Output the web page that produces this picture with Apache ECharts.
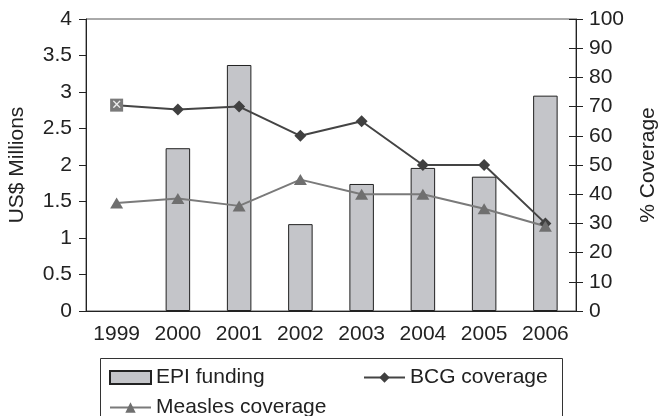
<!DOCTYPE html>
<html>
<head>
<meta charset="utf-8">
<script src="https://cdn.jsdelivr.net/npm/echarts@6/dist/echarts.min.js"></script>
<style>
  html, body { margin: 0; padding: 0; background: #fff; }
  #main { width: 659px; height: 416px; }
</style>
</head>
<body>
<div id="main"></div>
<script>
var years = ['1999', '2000', '2001', '2002', '2003', '2004', '2005', '2006'];
var epiFunding = ['-', 2.23, 3.37, 1.19, 1.74, 1.96, 1.84, 2.95];
var bcgCoverage = [70.5, 69, 70, 60, 65, 50, 50, 30];
var measlesCoverage = [37, 38.5, 36, 45, 40, 40, 35, 29];

var myChart = echarts.init(document.getElementById('main'));

var font = 'Liberation Sans, Arial, sans-serif';
var fs = 21;

// the 1999 BCG point uses a grey square marker with a white cross
var bcgData = bcgCoverage.map(function (v, i) {
  if (i === 0) {
    return {
      value: v,
      symbol: 'rect',
      symbolSize: 13,
      itemStyle: { color: '#7a7a7a' },
      label: {
        show: true, position: 'inside', formatter: '✕',
        color: '#eee', fontSize: 13, fontFamily: 'DejaVu Sans'
      }
    };
  }
  return v;
});

var option = {
  animation: false,
  textStyle: { fontFamily: font },
  grid: {
    left: 86, right: 83, top: 19, bottom: 105,
    outerBoundsMode: 'none',
    show: true, borderColor: '#555', borderWidth: 1
  },
  legend: [
    {
      data: [{ name: 'EPI funding', icon: 'rect' }],
      left: 104, top: 362,
      itemWidth: 41, itemHeight: 13,
      textStyle: { fontSize: fs, color: '#222', fontFamily: font }
    },
    {
      data: ['BCG coverage'],
      left: 358, top: 362,
      itemWidth: 41, itemHeight: 13,
      textStyle: { fontSize: fs, color: '#222', fontFamily: font }
    },
    {
      data: ['Measles coverage'],
      left: 104, top: 392,
      itemWidth: 41, itemHeight: 13,
      textStyle: { fontSize: fs, color: '#222', fontFamily: font }
    }
  ],
  graphic: [
    {
      type: 'rect',
      shape: { x: 100.5, y: 358.5, width: 462, height: 62 },
      style: { fill: 'none', stroke: '#333', lineWidth: 1 }
    }
  ],
  xAxis: {
    type: 'category',
    data: years,
    axisLine: { lineStyle: { color: '#222' } },
    axisTick: { interval: 0, length: 7, lineStyle: { color: '#222' } },
    axisLabel: { interval: 0, fontSize: fs, color: '#222', margin: 13 }
  },
  yAxis: [
    {
      type: 'value',
      min: 0, max: 4, interval: 0.5,
      name: 'US$ Millions',
      nameLocation: 'middle',
      nameRotate: 90,
      nameGap: 58,
      nameTextStyle: { fontSize: fs, color: '#222' },
      axisLine: { show: true, lineStyle: { color: '#222' } },
      axisTick: { show: true, length: 7, lineStyle: { color: '#222' } },
      axisLabel: { fontSize: fs, color: '#222', margin: 14 },
      splitLine: { show: false }
    },
    {
      type: 'value',
      min: 0, max: 100, interval: 10,
      position: 'right',
      name: '% Coverage',
      nameLocation: 'middle',
      nameRotate: 90,
      nameGap: 62,
      nameTextStyle: { fontSize: fs, color: '#222' },
      axisLine: { show: true, lineStyle: { color: '#222' } },
      axisTick: { show: true, length: 7, lineStyle: { color: '#222' } },
      axisLabel: { fontSize: fs, color: '#222', margin: 13 },
      splitLine: { show: false }
    },
    {
      // inner half of the crossing ticks on the right axis
      type: 'value',
      min: 0, max: 100, interval: 10,
      position: 'right',
      axisLine: { show: false },
      axisTick: { show: true, inside: true, length: 7, lineStyle: { color: '#222' } },
      axisLabel: { show: false },
      splitLine: { show: false }
    }
  ],
  series: [
    {
      name: 'EPI funding',
      type: 'bar',
      data: epiFunding,
      barWidth: '40%',
      itemStyle: { color: '#c4c5c9', borderColor: '#222', borderWidth: 1 }
    },
    {
      name: 'BCG coverage',
      type: 'line',
      yAxisIndex: 1,
      data: bcgData,
      symbol: 'diamond',
      symbolSize: 12,
      lineStyle: { color: '#444', width: 2 },
      itemStyle: { color: '#404040' }
    },
    {
      name: 'Measles coverage',
      type: 'line',
      yAxisIndex: 1,
      data: measlesCoverage,
      symbol: 'triangle',
      symbolSize: [13, 11],
      lineStyle: { color: '#7a7a7a', width: 2 },
      itemStyle: { color: '#6f6f6f' }
    }
  ]
};

myChart.setOption(option);
</script>
</body>
</html>
